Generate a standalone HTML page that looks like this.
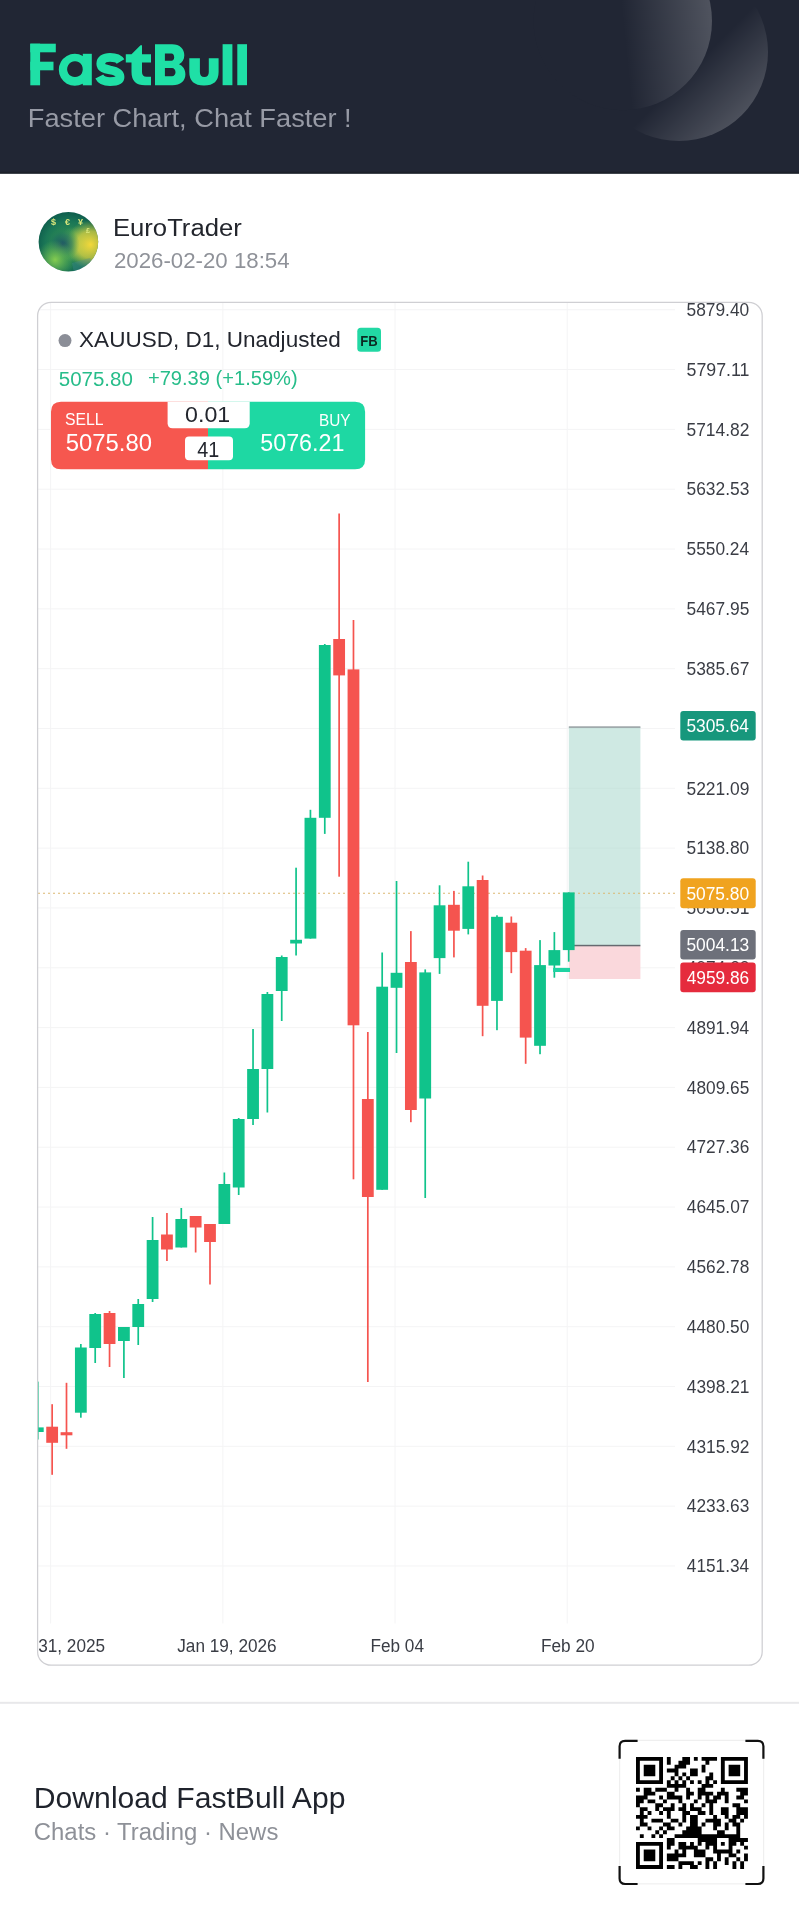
<!DOCTYPE html>
<html><head><meta charset="utf-8">
<style>
html,body{margin:0;padding:0;}
body{width:799px;height:1920px;position:relative;overflow:hidden;background:#ffffff;font-family:"Liberation Sans",sans-serif;}
svg{display:block;will-change:transform;}
</style></head><body>
<svg width="799" height="174" viewBox="0 0 799 174" style="position:absolute;left:0;top:0" font-family="Liberation Sans">
<rect width="799" height="173.6" fill="#212634"/>
<rect y="171.8" width="799" height="1.8" fill="#1c2029"/>
<defs>
<linearGradient id="gB" x1="0" y1="0" x2="1" y2="1"><stop offset="0.58" stop-color="#ffffff" stop-opacity="0"/><stop offset="1" stop-color="#ffffff" stop-opacity="0.3"/></linearGradient>
<linearGradient id="gA" x1="0.5" y1="0.5" x2="1" y2="0.45"><stop offset="0" stop-color="#ffffff" stop-opacity="0"/><stop offset="1" stop-color="#ffffff" stop-opacity="0.21"/></linearGradient>
</defs>
<circle cx="679" cy="52" r="89" fill="url(#gB)"/>
<circle cx="622.8" cy="21" r="89.2" fill="#212634"/>
<circle cx="622.8" cy="21" r="89.2" fill="url(#gA)"/>
<g fill="#1fe0a6">
<rect x="30.3" y="43.7" width="9.8" height="41.6"/>
<rect x="30.3" y="43.7" width="25.5" height="8.6"/>
<rect x="30.3" y="61.7" width="23.2" height="8.6"/>
<path fill-rule="evenodd" d="M74.8 53.8a16 16 0 1 0 0.01 0zM75 61.3a7.9 7.9 0 1 0 0.01 0z"/>
<rect x="82.8" y="53.8" width="9" height="31.5"/>
<path d="M120.5 61.5C118.5 58 114.5 57.3 110 57.3C104 57.3 100.8 60 100.8 63.8C100.8 68 105 69 110 70C116 71 120 72.5 120 77C120 80.8 116 81.6 110 81.6C104.5 81.6 101 80 99.3 76.5" fill="none" stroke="#1fe0a6" stroke-width="8.8"/>
<path d="M131.5 54.3L140.5 45.3H142V54.3H151V62.4H142V72Q142 76.8 146.5 76.8H151V85.3H145Q131.5 85.3 131.5 72V62.4H125.8V54.3Z"/>
<path fill-rule="evenodd" d="M155 44.2H172C180 44.2 184.3 49 184.3 55.3C184.3 59.5 182.3 62.6 179 64.2C183 65.8 185.4 69.5 185.4 74.2C185.4 81 180.5 85.2 172.5 85.2H155ZM164.9 53.5V60.8H171.5C173 60.8 174.2 59.3 174.2 57.2C174.2 55 173 53.5 171.5 53.5ZM164.9 68.1V76.2H172C174 76.2 175.5 74.5 175.5 72.2C175.5 69.8 174 68.1 172 68.1Z"/>
<path d="M189.3 58.3H199.9V72Q199.9 77 204.3 77Q208.8 77 208.8 72V58.3H218.6V72Q218.6 85.5 204 85.5Q189.3 85.5 189.3 72Z"/>
<rect x="222.6" y="44.2" width="9.8" height="41"/>
<rect x="237.3" y="44.2" width="9.7" height="41"/>
</g>
<text x="27.77" y="126.60" font-size="25.58" fill="#979aa5" textLength="323.91" lengthAdjust="spacingAndGlyphs" >Faster Chart, Chat Faster !</text>
</svg>
<svg width="799" height="126" viewBox="0 174 799 126" style="position:absolute;left:0;top:174px" font-family="Liberation Sans">
<defs>
<radialGradient id="av1" cx="0.5" cy="0.55" r="0.55"><stop offset="0" stop-color="#3a9a50"/><stop offset="0.7" stop-color="#1a7656"/><stop offset="1" stop-color="#0d5a4c"/></radialGradient>
<radialGradient id="av2" cx="0.86" cy="0.55" r="0.4"><stop offset="0" stop-color="#f3d83a" stop-opacity="1"/><stop offset="0.55" stop-color="#d8d040" stop-opacity="0.75"/><stop offset="1" stop-color="#b0c840" stop-opacity="0"/></radialGradient>
<radialGradient id="av3" cx="0.4" cy="0.5" r="0.5"><stop offset="0" stop-color="#1a4f66" stop-opacity="0.95"/><stop offset="0.55" stop-color="#1f6e60" stop-opacity="0.6"/><stop offset="1" stop-color="#2a8a50" stop-opacity="0"/></radialGradient>
<radialGradient id="av4" cx="0.28" cy="0.8" r="0.32"><stop offset="0" stop-color="#8ad050" stop-opacity="0.95"/><stop offset="1" stop-color="#6cc050" stop-opacity="0"/></radialGradient>
<radialGradient id="av5" cx="0.62" cy="0.55" r="0.3"><stop offset="0" stop-color="#9ad060" stop-opacity="0.7"/><stop offset="1" stop-color="#9ad060" stop-opacity="0"/></radialGradient>
<clipPath id="avc"><circle cx="68.4" cy="241.8" r="29.8"/></clipPath>
</defs>
<g clip-path="url(#avc)">
<rect x="38" y="211" width="61" height="61" fill="url(#av1)"/>
<rect x="38" y="211" width="61" height="61" fill="url(#av5)"/>
<rect x="38" y="211" width="61" height="61" fill="url(#av2)"/>
<circle cx="66" cy="244" r="17" fill="url(#av3)"/>
<rect x="38" y="211" width="61" height="61" fill="url(#av4)"/>
<path d="M72 263L90 258L95 268L74 273Z" fill="#4a8aa0" opacity="0.3"/>
</g>
<g font-size="9" font-weight="bold" fill="#dbe87c" text-anchor="middle">
<text x="53.5" y="225">$</text><text x="67.5" y="224.5">€</text><text x="80.5" y="225">¥</text><text x="88" y="233" font-size="7">£</text>
</g>
<text x="112.91" y="236.30" font-size="24.42" fill="#22252c" textLength="128.91" lengthAdjust="spacingAndGlyphs" >EuroTrader</text>
<text x="113.88" y="268.00" font-size="22.38" fill="#8f9299" textLength="175.77" lengthAdjust="spacingAndGlyphs" >2026-02-20 18:54</text>
</svg>
<svg width="799" height="1400" viewBox="0 300 799 1400" style="position:absolute;left:0;top:300px" font-family="Liberation Sans">
<defs><clipPath id="cc"><rect x="37.6" y="302.4" width="724.5" height="1362.7" rx="13.5"/></clipPath></defs>
<g clip-path="url(#cc)">
<rect x="38" y="309.25" width="637" height="1" fill="#f4f4f5"/>
<rect x="38" y="369.07" width="637" height="1" fill="#f4f4f5"/>
<rect x="38" y="428.89" width="637" height="1" fill="#f4f4f5"/>
<rect x="38" y="488.71" width="637" height="1" fill="#f4f4f5"/>
<rect x="38" y="548.53" width="637" height="1" fill="#f4f4f5"/>
<rect x="38" y="608.35" width="637" height="1" fill="#f4f4f5"/>
<rect x="38" y="668.17" width="637" height="1" fill="#f4f4f5"/>
<rect x="38" y="727.99" width="637" height="1" fill="#f4f4f5"/>
<rect x="38" y="787.81" width="637" height="1" fill="#f4f4f5"/>
<rect x="38" y="847.63" width="637" height="1" fill="#f4f4f5"/>
<rect x="38" y="907.45" width="637" height="1" fill="#f4f4f5"/>
<rect x="38" y="967.27" width="637" height="1" fill="#f4f4f5"/>
<rect x="38" y="1027.09" width="637" height="1" fill="#f4f4f5"/>
<rect x="38" y="1086.91" width="637" height="1" fill="#f4f4f5"/>
<rect x="38" y="1146.73" width="637" height="1" fill="#f4f4f5"/>
<rect x="38" y="1206.55" width="637" height="1" fill="#f4f4f5"/>
<rect x="38" y="1266.37" width="637" height="1" fill="#f4f4f5"/>
<rect x="38" y="1326.19" width="637" height="1" fill="#f4f4f5"/>
<rect x="38" y="1386.01" width="637" height="1" fill="#f4f4f5"/>
<rect x="38" y="1445.83" width="637" height="1" fill="#f4f4f5"/>
<rect x="38" y="1505.65" width="637" height="1" fill="#f4f4f5"/>
<rect x="38" y="1565.47" width="637" height="1" fill="#f4f4f5"/>
<rect x="50.15" y="303" width="1" height="1320.5" fill="#f4f4f5"/>
<rect x="222.34" y="303" width="1" height="1320.5" fill="#f4f4f5"/>
<rect x="394.53" y="303" width="1" height="1320.5" fill="#f4f4f5"/>
<rect x="566.71" y="303" width="1" height="1320.5" fill="#f4f4f5"/>
<rect x="568.8" y="727" width="71.6" height="218.5" fill="#cfe9e3"/>
<rect x="568.8" y="946" width="71.6" height="33" fill="#fad8dc"/>
<rect x="568.8" y="726.3" width="71.6" height="1.6" fill="#9aa3a6"/>
<rect x="568.8" y="944.8" width="71.6" height="1.5" fill="#666a70"/>
<rect x="568.8" y="727.99" width="71.6" height="1" fill="#000000" fill-opacity="0.025"/>
<rect x="568.8" y="787.81" width="71.6" height="1" fill="#000000" fill-opacity="0.025"/>
<rect x="568.8" y="847.63" width="71.6" height="1" fill="#000000" fill-opacity="0.025"/>
<rect x="568.8" y="907.45" width="71.6" height="1" fill="#000000" fill-opacity="0.025"/>
<line x1="38" y1="893.2" x2="676" y2="893.2" stroke="#dcb872" stroke-width="1.1" stroke-dasharray="2 3"/>
<rect x="36.95" y="1381.60" width="1.7" height="57.90" fill="#10c38b"/>
<rect x="31.90" y="1427.40" width="11.8" height="4.60" fill="#10c38b"/>
<rect x="51.30" y="1404.20" width="1.7" height="70.60" fill="#f5544f"/>
<rect x="46.25" y="1426.70" width="11.8" height="16.10" fill="#f5544f"/>
<rect x="65.65" y="1382.80" width="1.7" height="66.00" fill="#f5544f"/>
<rect x="60.60" y="1432.20" width="11.8" height="3.10" fill="#f5544f"/>
<rect x="80.00" y="1344.00" width="1.7" height="73.70" fill="#10c38b"/>
<rect x="74.95" y="1347.50" width="11.8" height="65.20" fill="#10c38b"/>
<rect x="94.35" y="1313.00" width="1.7" height="50.00" fill="#10c38b"/>
<rect x="89.30" y="1314.00" width="11.8" height="34.00" fill="#10c38b"/>
<rect x="108.70" y="1311.00" width="1.7" height="56.00" fill="#f5544f"/>
<rect x="103.65" y="1313.00" width="11.8" height="31.00" fill="#f5544f"/>
<rect x="123.05" y="1327.00" width="1.7" height="51.00" fill="#10c38b"/>
<rect x="118.00" y="1327.00" width="11.8" height="14.00" fill="#10c38b"/>
<rect x="137.39" y="1299.00" width="1.7" height="46.00" fill="#10c38b"/>
<rect x="132.34" y="1304.00" width="11.8" height="23.00" fill="#10c38b"/>
<rect x="151.74" y="1217.00" width="1.7" height="85.00" fill="#10c38b"/>
<rect x="146.69" y="1240.00" width="11.8" height="59.00" fill="#10c38b"/>
<rect x="166.09" y="1213.00" width="1.7" height="48.00" fill="#f5544f"/>
<rect x="161.04" y="1234.50" width="11.8" height="15.00" fill="#f5544f"/>
<rect x="180.44" y="1208.00" width="1.7" height="39.50" fill="#10c38b"/>
<rect x="175.39" y="1219.00" width="11.8" height="28.50" fill="#10c38b"/>
<rect x="194.79" y="1216.00" width="1.7" height="36.50" fill="#f5544f"/>
<rect x="189.74" y="1216.00" width="11.8" height="11.50" fill="#f5544f"/>
<rect x="209.14" y="1224.00" width="1.7" height="60.50" fill="#f5544f"/>
<rect x="204.09" y="1224.00" width="11.8" height="18.00" fill="#f5544f"/>
<rect x="223.49" y="1172.50" width="1.7" height="51.50" fill="#10c38b"/>
<rect x="218.44" y="1184.00" width="11.8" height="40.00" fill="#10c38b"/>
<rect x="237.84" y="1118.00" width="1.7" height="77.00" fill="#10c38b"/>
<rect x="232.79" y="1119.00" width="11.8" height="68.50" fill="#10c38b"/>
<rect x="252.19" y="1029.00" width="1.7" height="96.00" fill="#10c38b"/>
<rect x="247.14" y="1069.00" width="11.8" height="50.00" fill="#10c38b"/>
<rect x="266.53" y="992.00" width="1.7" height="120.50" fill="#10c38b"/>
<rect x="261.49" y="994.00" width="11.8" height="75.00" fill="#10c38b"/>
<rect x="280.88" y="955.50" width="1.7" height="65.50" fill="#10c38b"/>
<rect x="275.83" y="957.00" width="11.8" height="34.00" fill="#10c38b"/>
<rect x="295.23" y="867.70" width="1.7" height="87.80" fill="#10c38b"/>
<rect x="290.18" y="939.80" width="11.8" height="3.70" fill="#10c38b"/>
<rect x="309.58" y="809.80" width="1.7" height="128.80" fill="#10c38b"/>
<rect x="304.53" y="817.80" width="11.8" height="120.80" fill="#10c38b"/>
<rect x="323.93" y="644.00" width="1.7" height="189.90" fill="#10c38b"/>
<rect x="318.88" y="645.00" width="11.8" height="172.80" fill="#10c38b"/>
<rect x="338.28" y="513.50" width="1.7" height="363.20" fill="#f5544f"/>
<rect x="333.23" y="639.00" width="11.8" height="36.40" fill="#f5544f"/>
<rect x="352.63" y="620.00" width="1.7" height="559.30" fill="#f5544f"/>
<rect x="347.58" y="669.40" width="11.8" height="355.90" fill="#f5544f"/>
<rect x="366.98" y="1032.00" width="1.7" height="350.00" fill="#f5544f"/>
<rect x="361.93" y="1099.00" width="11.8" height="98.00" fill="#f5544f"/>
<rect x="381.33" y="952.50" width="1.7" height="237.30" fill="#10c38b"/>
<rect x="376.28" y="986.70" width="11.8" height="203.10" fill="#10c38b"/>
<rect x="395.68" y="881.00" width="1.7" height="172.00" fill="#10c38b"/>
<rect x="390.63" y="972.80" width="11.8" height="15.00" fill="#10c38b"/>
<rect x="410.02" y="931.10" width="1.7" height="191.10" fill="#f5544f"/>
<rect x="404.98" y="962.00" width="11.8" height="148.00" fill="#f5544f"/>
<rect x="424.37" y="969.40" width="1.7" height="228.60" fill="#10c38b"/>
<rect x="419.32" y="972.40" width="11.8" height="126.10" fill="#10c38b"/>
<rect x="438.72" y="885.30" width="1.7" height="88.60" fill="#10c38b"/>
<rect x="433.67" y="905.30" width="11.8" height="52.80" fill="#10c38b"/>
<rect x="453.07" y="890.90" width="1.7" height="66.50" fill="#f5544f"/>
<rect x="448.02" y="904.80" width="11.8" height="25.90" fill="#f5544f"/>
<rect x="467.42" y="861.70" width="1.7" height="72.70" fill="#10c38b"/>
<rect x="462.37" y="886.30" width="11.8" height="42.60" fill="#10c38b"/>
<rect x="481.77" y="875.50" width="1.7" height="160.70" fill="#f5544f"/>
<rect x="476.72" y="880.00" width="11.8" height="125.80" fill="#f5544f"/>
<rect x="496.12" y="915.30" width="1.7" height="114.90" fill="#10c38b"/>
<rect x="491.07" y="916.80" width="11.8" height="84.10" fill="#10c38b"/>
<rect x="510.47" y="916.50" width="1.7" height="56.60" fill="#f5544f"/>
<rect x="505.42" y="922.70" width="11.8" height="29.40" fill="#f5544f"/>
<rect x="524.82" y="948.10" width="1.7" height="115.70" fill="#f5544f"/>
<rect x="519.77" y="950.70" width="11.8" height="86.90" fill="#f5544f"/>
<rect x="539.17" y="940.10" width="1.7" height="114.10" fill="#10c38b"/>
<rect x="534.12" y="965.10" width="11.8" height="80.70" fill="#10c38b"/>
<rect x="553.51" y="932.10" width="1.7" height="45.60" fill="#10c38b"/>
<rect x="548.47" y="950.10" width="11.8" height="15.40" fill="#10c38b"/>
<rect x="567.86" y="892.40" width="1.7" height="69.30" fill="#10c38b"/>
<rect x="562.81" y="892.40" width="11.8" height="57.70" fill="#10c38b"/>
<rect x="553.1" y="967.9" width="16.9" height="4.1" fill="#1fd3a2"/>
<text x="177.23" y="1651.60" font-size="18.02" fill="#3a3d45" textLength="99.42" lengthAdjust="spacingAndGlyphs" >Jan 19, 2026</text>
<text x="370.49" y="1651.60" font-size="18.02" fill="#3a3d45" textLength="53.51" lengthAdjust="spacingAndGlyphs" >Feb 04</text>
<text x="540.99" y="1651.60" font-size="18.02" fill="#3a3d45" textLength="53.69" lengthAdjust="spacingAndGlyphs" >Feb 20</text>
<text x="2.84" y="1651.6" font-size="18.02" fill="#3a3d45" textLength="102.28" lengthAdjust="spacingAndGlyphs">Dec 31, 2025</text>
</g>
<rect x="37.6" y="302.3" width="724.6" height="1362.9" rx="13.5" fill="none" stroke="#cfcfd3" stroke-width="1.25"/>
<text x="686.50" y="316.00" font-size="18.17" fill="#3a3d45" textLength="62.77" lengthAdjust="spacingAndGlyphs" >5879.40</text>
<text x="686.50" y="375.82" font-size="18.17" fill="#3a3d45" textLength="62.95" lengthAdjust="spacingAndGlyphs" >5797.11</text>
<text x="686.50" y="435.64" font-size="18.17" fill="#3a3d45" textLength="62.97" lengthAdjust="spacingAndGlyphs" >5714.82</text>
<text x="686.50" y="495.46" font-size="18.17" fill="#3a3d45" textLength="62.86" lengthAdjust="spacingAndGlyphs" >5632.53</text>
<text x="686.51" y="555.28" font-size="18.17" fill="#3a3d45" textLength="62.60" lengthAdjust="spacingAndGlyphs" >5550.24</text>
<text x="686.50" y="615.10" font-size="18.17" fill="#3a3d45" textLength="62.83" lengthAdjust="spacingAndGlyphs" >5467.95</text>
<text x="686.50" y="674.92" font-size="18.17" fill="#3a3d45" textLength="62.97" lengthAdjust="spacingAndGlyphs" >5385.67</text>
<text x="686.50" y="734.74" font-size="18.17" fill="#3a3d45" textLength="62.85" lengthAdjust="spacingAndGlyphs" >5303.38</text>
<text x="686.50" y="794.56" font-size="18.17" fill="#3a3d45" textLength="62.92" lengthAdjust="spacingAndGlyphs" >5221.09</text>
<text x="686.50" y="854.38" font-size="18.17" fill="#3a3d45" textLength="62.77" lengthAdjust="spacingAndGlyphs" >5138.80</text>
<text x="686.50" y="914.20" font-size="18.17" fill="#3a3d45" textLength="62.95" lengthAdjust="spacingAndGlyphs" >5056.51</text>
<text x="686.80" y="974.02" font-size="18.17" fill="#3a3d45" textLength="62.67" lengthAdjust="spacingAndGlyphs" >4974.22</text>
<text x="686.80" y="1033.84" font-size="18.17" fill="#3a3d45" textLength="62.30" lengthAdjust="spacingAndGlyphs" >4891.94</text>
<text x="686.80" y="1093.66" font-size="18.17" fill="#3a3d45" textLength="62.52" lengthAdjust="spacingAndGlyphs" >4809.65</text>
<text x="686.80" y="1153.48" font-size="18.17" fill="#3a3d45" textLength="62.56" lengthAdjust="spacingAndGlyphs" >4727.36</text>
<text x="686.80" y="1213.30" font-size="18.17" fill="#3a3d45" textLength="62.67" lengthAdjust="spacingAndGlyphs" >4645.07</text>
<text x="686.80" y="1273.12" font-size="18.17" fill="#3a3d45" textLength="62.55" lengthAdjust="spacingAndGlyphs" >4562.78</text>
<text x="686.80" y="1332.94" font-size="18.17" fill="#3a3d45" textLength="62.47" lengthAdjust="spacingAndGlyphs" >4480.50</text>
<text x="686.80" y="1392.76" font-size="18.17" fill="#3a3d45" textLength="62.64" lengthAdjust="spacingAndGlyphs" >4398.21</text>
<text x="686.80" y="1452.58" font-size="18.17" fill="#3a3d45" textLength="62.67" lengthAdjust="spacingAndGlyphs" >4315.92</text>
<text x="686.80" y="1512.40" font-size="18.17" fill="#3a3d45" textLength="62.56" lengthAdjust="spacingAndGlyphs" >4233.63</text>
<text x="686.80" y="1572.22" font-size="18.17" fill="#3a3d45" textLength="62.30" lengthAdjust="spacingAndGlyphs" >4151.34</text>
<rect x="680.3" y="710.9" width="75.4" height="29.6" rx="3" fill="#17977c"/>
<text x="686.41" y="732.00" font-size="18.75" fill="#ffffff" textLength="62.60" lengthAdjust="spacingAndGlyphs" >5305.64</text>
<rect x="680.3" y="878.2" width="75.4" height="30.0" rx="3" fill="#f0a31f"/>
<text x="686.40" y="899.50" font-size="18.75" fill="#ffffff" textLength="62.77" lengthAdjust="spacingAndGlyphs" >5075.80</text>
<rect x="680.3" y="930" width="75.4" height="29.6" rx="3" fill="#6d707a"/>
<text x="686.40" y="951.10" font-size="18.75" fill="#ffffff" textLength="62.86" lengthAdjust="spacingAndGlyphs" >5004.13</text>
<rect x="680.3" y="962.4" width="75.4" height="29.9" rx="3" fill="#e52b3d"/>
<text x="686.70" y="983.65" font-size="18.75" fill="#ffffff" textLength="62.56" lengthAdjust="spacingAndGlyphs" >4959.86</text>
<circle cx="65" cy="340.6" r="6.5" fill="#8b8e97"/>
<text x="79.09" y="346.60" font-size="22.67" fill="#23262e" textLength="261.66" lengthAdjust="spacingAndGlyphs" >XAUUSD, D1, Unadjusted</text>
<rect x="357.3" y="327.8" width="23.7" height="24" rx="3.5" fill="#22d8a4"/>
<text x="360.32" y="346.20" font-size="14.83" fill="#0b2a22" textLength="17.47" lengthAdjust="spacingAndGlyphs" font-weight="bold" >FB</text>
<text x="58.78" y="385.50" font-size="20.78" fill="#27bd8a" textLength="74.12" lengthAdjust="spacingAndGlyphs" >5075.80</text>
<text x="147.92" y="385.10" font-size="20.64" fill="#27bd8a" textLength="149.73" lengthAdjust="spacingAndGlyphs" >+79.39 (+1.59%)</text>
<path d="M61 401.8H208V469.3H61Q51 469.3 51 459.3V411.8Q51 401.8 61 401.8Z" fill="#f6574f"/>
<path d="M208 401.8H355.1Q365.1 401.8 365.1 411.8V459.3Q365.1 469.3 355.1 469.3H208Z" fill="#1ed8a3"/>
<path d="M167.6 401.8H249.7V423.3Q249.7 428.3 244.7 428.3H172.6Q167.6 428.3 167.6 423.3Z" fill="#ffffff"/>
<rect x="185" y="436.5" width="48" height="23.8" rx="4" fill="#ffffff"/>
<text x="65.08" y="425.20" font-size="15.84" fill="#ffffff" textLength="38.54" lengthAdjust="spacingAndGlyphs" >SELL</text>
<text x="65.74" y="450.60" font-size="23.84" fill="#ffffff" textLength="86.29" lengthAdjust="spacingAndGlyphs" >5075.80</text>
<text x="318.94" y="425.50" font-size="15.99" fill="#ffffff" textLength="31.60" lengthAdjust="spacingAndGlyphs" >BUY</text>
<text x="260.27" y="450.80" font-size="23.84" fill="#ffffff" textLength="84.17" lengthAdjust="spacingAndGlyphs" >5076.21</text>
<text x="185.09" y="421.90" font-size="21.66" fill="#23262e" textLength="45.14" lengthAdjust="spacingAndGlyphs" >0.01</text>
<text x="197.35" y="456.50" font-size="21.66" fill="#23262e" textLength="22.02" lengthAdjust="spacingAndGlyphs" >41</text>
</svg>
<svg width="799" height="220" viewBox="0 1700 799 220" style="position:absolute;left:0;top:1700px" font-family="Liberation Sans">
<rect x="0" y="1701.8" width="799" height="2" fill="#e8e8ea"/>
<text x="33.84" y="1807.50" font-size="29.51" fill="#1f232c" textLength="311.62" lengthAdjust="spacingAndGlyphs" >Download FastBull App</text>
<text x="33.79" y="1840.30" font-size="24.42" fill="#8e9198" textLength="244.57" lengthAdjust="spacingAndGlyphs" >Chats · Trading · News</text>
</svg>
<svg width="160" height="160" viewBox="612 1732 160 160" style="position:absolute;left:612px;top:1732px">
<path d="M636.00 1757.00h27.01v3.86h-27.01zM666.87 1757.00h3.86v3.86h-3.86zM682.31 1757.00h7.72v3.86h-7.72zM693.88 1757.00h3.86v3.86h-3.86zM701.60 1757.00h15.44v3.86h-15.44zM720.90 1757.00h27.01v3.86h-27.01zM636.00 1760.86h3.86v3.86h-3.86zM659.15 1760.86h3.86v3.86h-3.86zM666.87 1760.86h3.86v3.86h-3.86zM678.45 1760.86h11.58v3.86h-11.58zM705.46 1760.86h3.86v3.86h-3.86zM720.90 1760.86h3.86v3.86h-3.86zM744.05 1760.86h3.86v3.86h-3.86zM636.00 1764.72h3.86v3.86h-3.86zM643.72 1764.72h11.58v3.86h-11.58zM659.15 1764.72h3.86v3.86h-3.86zM674.59 1764.72h11.58v3.86h-11.58zM701.60 1764.72h3.86v3.86h-3.86zM720.90 1764.72h3.86v3.86h-3.86zM728.62 1764.72h11.58v3.86h-11.58zM744.05 1764.72h3.86v3.86h-3.86zM636.00 1768.58h3.86v3.86h-3.86zM643.72 1768.58h11.58v3.86h-11.58zM659.15 1768.58h3.86v3.86h-3.86zM666.87 1768.58h11.58v3.86h-11.58zM690.03 1768.58h7.72v3.86h-7.72zM701.60 1768.58h3.86v3.86h-3.86zM720.90 1768.58h3.86v3.86h-3.86zM728.62 1768.58h11.58v3.86h-11.58zM744.05 1768.58h3.86v3.86h-3.86zM636.00 1772.44h3.86v3.86h-3.86zM643.72 1772.44h11.58v3.86h-11.58zM659.15 1772.44h3.86v3.86h-3.86zM674.59 1772.44h3.86v3.86h-3.86zM682.31 1772.44h3.86v3.86h-3.86zM690.03 1772.44h7.72v3.86h-7.72zM709.32 1772.44h3.86v3.86h-3.86zM720.90 1772.44h3.86v3.86h-3.86zM728.62 1772.44h11.58v3.86h-11.58zM744.05 1772.44h3.86v3.86h-3.86zM636.00 1776.30h3.86v3.86h-3.86zM659.15 1776.30h3.86v3.86h-3.86zM670.73 1776.30h3.86v3.86h-3.86zM678.45 1776.30h3.86v3.86h-3.86zM686.17 1776.30h3.86v3.86h-3.86zM705.46 1776.30h7.72v3.86h-7.72zM720.90 1776.30h3.86v3.86h-3.86zM744.05 1776.30h3.86v3.86h-3.86zM636.00 1780.15h27.01v3.86h-27.01zM666.87 1780.15h3.86v3.86h-3.86zM674.59 1780.15h3.86v3.86h-3.86zM682.31 1780.15h3.86v3.86h-3.86zM690.03 1780.15h3.86v3.86h-3.86zM697.74 1780.15h3.86v3.86h-3.86zM705.46 1780.15h3.86v3.86h-3.86zM713.18 1780.15h3.86v3.86h-3.86zM720.90 1780.15h27.01v3.86h-27.01zM666.87 1784.01h19.30v3.86h-19.30zM701.60 1784.01h11.58v3.86h-11.58zM636.00 1787.87h3.86v3.86h-3.86zM643.72 1787.87h7.72v3.86h-7.72zM655.29 1787.87h11.58v3.86h-11.58zM674.59 1787.87h3.86v3.86h-3.86zM686.17 1787.87h3.86v3.86h-3.86zM697.74 1787.87h7.72v3.86h-7.72zM720.90 1787.87h3.86v3.86h-3.86zM736.33 1787.87h11.58v3.86h-11.58zM643.72 1791.73h11.58v3.86h-11.58zM666.87 1791.73h7.72v3.86h-7.72zM686.17 1791.73h7.72v3.86h-7.72zM697.74 1791.73h15.44v3.86h-15.44zM717.04 1791.73h11.58v3.86h-11.58zM740.19 1791.73h7.72v3.86h-7.72zM636.00 1795.59h11.58v3.86h-11.58zM659.15 1795.59h3.86v3.86h-3.86zM666.87 1795.59h15.44v3.86h-15.44zM686.17 1795.59h3.86v3.86h-3.86zM697.74 1795.59h3.86v3.86h-3.86zM705.46 1795.59h3.86v3.86h-3.86zM713.18 1795.59h7.72v3.86h-7.72zM724.76 1795.59h3.86v3.86h-3.86zM736.33 1795.59h7.72v3.86h-7.72zM636.00 1799.45h7.72v3.86h-7.72zM647.58 1799.45h7.72v3.86h-7.72zM663.01 1799.45h3.86v3.86h-3.86zM678.45 1799.45h3.86v3.86h-3.86zM693.88 1799.45h3.86v3.86h-3.86zM705.46 1799.45h11.58v3.86h-11.58zM724.76 1799.45h3.86v3.86h-3.86zM744.05 1799.45h3.86v3.86h-3.86zM636.00 1803.31h3.86v3.86h-3.86zM655.29 1803.31h7.72v3.86h-7.72zM670.73 1803.31h3.86v3.86h-3.86zM682.31 1803.31h3.86v3.86h-3.86zM690.03 1803.31h3.86v3.86h-3.86zM701.60 1803.31h3.86v3.86h-3.86zM709.32 1803.31h3.86v3.86h-3.86zM732.48 1803.31h7.72v3.86h-7.72zM639.86 1807.17h7.72v3.86h-7.72zM655.29 1807.17h3.86v3.86h-3.86zM663.01 1807.17h11.58v3.86h-11.58zM678.45 1807.17h7.72v3.86h-7.72zM690.03 1807.17h11.58v3.86h-11.58zM709.32 1807.17h3.86v3.86h-3.86zM720.90 1807.17h7.72v3.86h-7.72zM736.33 1807.17h11.58v3.86h-11.58zM639.86 1811.03h3.86v3.86h-3.86zM647.58 1811.03h3.86v3.86h-3.86zM659.15 1811.03h3.86v3.86h-3.86zM666.87 1811.03h3.86v3.86h-3.86zM682.31 1811.03h7.72v3.86h-7.72zM697.74 1811.03h7.72v3.86h-7.72zM709.32 1811.03h3.86v3.86h-3.86zM720.90 1811.03h7.72v3.86h-7.72zM736.33 1811.03h11.58v3.86h-11.58zM636.00 1814.88h11.58v3.86h-11.58zM666.87 1814.88h3.86v3.86h-3.86zM682.31 1814.88h3.86v3.86h-3.86zM690.03 1814.88h7.72v3.86h-7.72zM713.18 1814.88h3.86v3.86h-3.86zM724.76 1814.88h3.86v3.86h-3.86zM732.48 1814.88h7.72v3.86h-7.72zM744.05 1814.88h3.86v3.86h-3.86zM639.86 1818.74h3.86v3.86h-3.86zM651.44 1818.74h11.58v3.86h-11.58zM670.73 1818.74h7.72v3.86h-7.72zM682.31 1818.74h3.86v3.86h-3.86zM690.03 1818.74h7.72v3.86h-7.72zM705.46 1818.74h15.44v3.86h-15.44zM728.62 1818.74h7.72v3.86h-7.72zM740.19 1818.74h3.86v3.86h-3.86zM639.86 1822.60h7.72v3.86h-7.72zM663.01 1822.60h7.72v3.86h-7.72zM678.45 1822.60h3.86v3.86h-3.86zM690.03 1822.60h7.72v3.86h-7.72zM701.60 1822.60h3.86v3.86h-3.86zM713.18 1822.60h7.72v3.86h-7.72zM724.76 1822.60h3.86v3.86h-3.86zM732.48 1822.60h7.72v3.86h-7.72zM636.00 1826.46h3.86v3.86h-3.86zM647.58 1826.46h3.86v3.86h-3.86zM659.15 1826.46h3.86v3.86h-3.86zM666.87 1826.46h7.72v3.86h-7.72zM686.17 1826.46h15.44v3.86h-15.44zM713.18 1826.46h3.86v3.86h-3.86zM724.76 1826.46h3.86v3.86h-3.86zM736.33 1826.46h3.86v3.86h-3.86zM655.29 1830.32h3.86v3.86h-3.86zM663.01 1830.32h3.86v3.86h-3.86zM682.31 1830.32h19.30v3.86h-19.30zM717.04 1830.32h7.72v3.86h-7.72zM736.33 1830.32h3.86v3.86h-3.86zM639.86 1834.18h3.86v3.86h-3.86zM651.44 1834.18h3.86v3.86h-3.86zM659.15 1834.18h3.86v3.86h-3.86zM674.59 1834.18h65.60v3.86h-65.60zM666.87 1838.04h7.72v3.86h-7.72zM697.74 1838.04h19.30v3.86h-19.30zM728.62 1838.04h19.30v3.86h-19.30zM636.00 1841.90h27.01v3.86h-27.01zM666.87 1841.90h7.72v3.86h-7.72zM678.45 1841.90h7.72v3.86h-7.72zM690.03 1841.90h3.86v3.86h-3.86zM697.74 1841.90h3.86v3.86h-3.86zM705.46 1841.90h11.58v3.86h-11.58zM720.90 1841.90h3.86v3.86h-3.86zM728.62 1841.90h7.72v3.86h-7.72zM740.19 1841.90h3.86v3.86h-3.86zM636.00 1845.76h3.86v3.86h-3.86zM659.15 1845.76h3.86v3.86h-3.86zM666.87 1845.76h3.86v3.86h-3.86zM678.45 1845.76h19.30v3.86h-19.30zM705.46 1845.76h3.86v3.86h-3.86zM713.18 1845.76h3.86v3.86h-3.86zM728.62 1845.76h3.86v3.86h-3.86zM744.05 1845.76h3.86v3.86h-3.86zM636.00 1849.62h3.86v3.86h-3.86zM643.72 1849.62h11.58v3.86h-11.58zM659.15 1849.62h3.86v3.86h-3.86zM674.59 1849.62h3.86v3.86h-3.86zM682.31 1849.62h3.86v3.86h-3.86zM693.88 1849.62h11.58v3.86h-11.58zM713.18 1849.62h19.30v3.86h-19.30zM736.33 1849.62h3.86v3.86h-3.86zM636.00 1853.47h3.86v3.86h-3.86zM643.72 1853.47h11.58v3.86h-11.58zM659.15 1853.47h3.86v3.86h-3.86zM666.87 1853.47h19.30v3.86h-19.30zM693.88 1853.47h11.58v3.86h-11.58zM717.04 1853.47h3.86v3.86h-3.86zM728.62 1853.47h7.72v3.86h-7.72zM744.05 1853.47h3.86v3.86h-3.86zM636.00 1857.33h3.86v3.86h-3.86zM643.72 1857.33h11.58v3.86h-11.58zM659.15 1857.33h3.86v3.86h-3.86zM666.87 1857.33h11.58v3.86h-11.58zM705.46 1857.33h7.72v3.86h-7.72zM717.04 1857.33h3.86v3.86h-3.86zM724.76 1857.33h3.86v3.86h-3.86zM736.33 1857.33h3.86v3.86h-3.86zM744.05 1857.33h3.86v3.86h-3.86zM636.00 1861.19h3.86v3.86h-3.86zM659.15 1861.19h3.86v3.86h-3.86zM678.45 1861.19h15.44v3.86h-15.44zM697.74 1861.19h3.86v3.86h-3.86zM705.46 1861.19h3.86v3.86h-3.86zM713.18 1861.19h3.86v3.86h-3.86zM724.76 1861.19h3.86v3.86h-3.86zM732.48 1861.19h3.86v3.86h-3.86zM740.19 1861.19h3.86v3.86h-3.86zM636.00 1865.05h27.01v3.86h-27.01zM666.87 1865.05h7.72v3.86h-7.72zM678.45 1865.05h3.86v3.86h-3.86zM690.03 1865.05h7.72v3.86h-7.72zM705.46 1865.05h3.86v3.86h-3.86zM713.18 1865.05h3.86v3.86h-3.86zM732.48 1865.05h3.86v3.86h-3.86zM740.19 1865.05h3.86v3.86h-3.86z" fill="#000"/>
<rect x="619.7" y="1740.3" width="144" height="143.6" rx="6" fill="none" stroke="#ececec" stroke-width="1"/>
<path d="M619.6 1758.8V1746.3Q619.6 1740.8 625.1 1740.8H637.6" fill="none" stroke="#111" stroke-width="2.2" stroke-linecap="butt"/>
<path d="M745.4 1740.8H757.9Q763.4 1740.8 763.4 1746.3V1758.8" fill="none" stroke="#111" stroke-width="2.2" stroke-linecap="butt"/>
<path d="M619.6 1866.0V1878.5Q619.6 1884.0 625.1 1884.0H637.6" fill="none" stroke="#111" stroke-width="2.2" stroke-linecap="butt"/>
<path d="M745.4 1884.0H757.9Q763.4 1884.0 763.4 1878.5V1866.0" fill="none" stroke="#111" stroke-width="2.2" stroke-linecap="butt"/>
</svg>
</body></html>
